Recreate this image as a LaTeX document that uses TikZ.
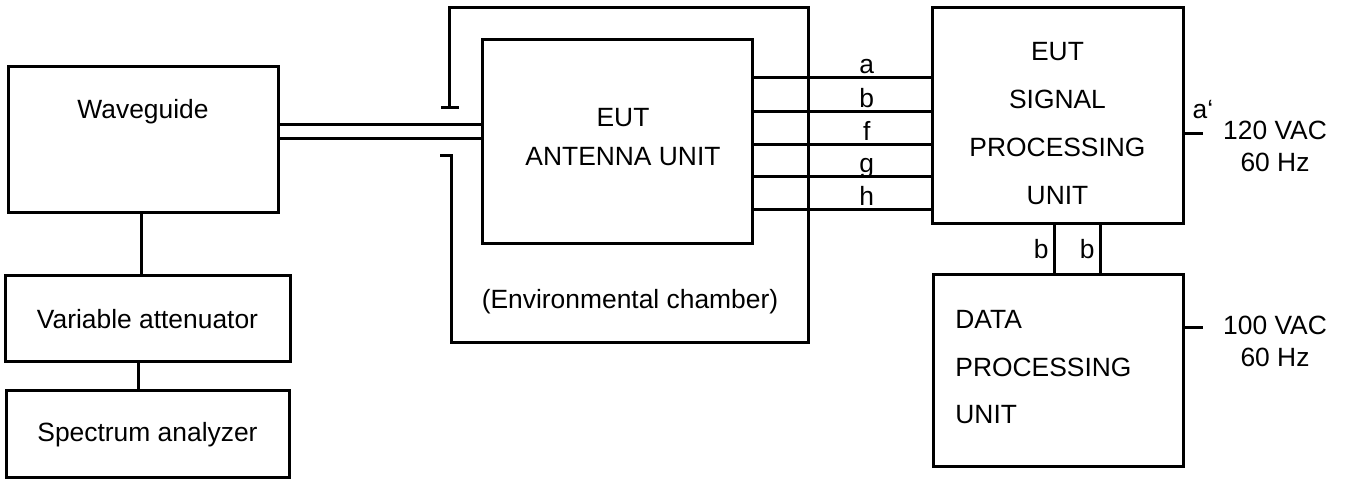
\documentclass[tikz,border=0pt]{standalone}
\usepackage{fontspec}
\setmainfont{Liberation Sans}
\usepackage{tikz}

\begin{document}
\begin{tikzpicture}[
    x=0.5pt, y=-0.5pt,
    font=\fontsize{13.2}{16}\selectfont,
    block/.style={draw, line width=1.5pt, inner sep=0pt},
    line/.style={line width=1.5pt},
    txt/.style={inner sep=0pt, align=center}
]
\useasboundingbox (0,0) rectangle (1346,480);

% measurement side
\node[block, minimum width=135pt, minimum height=73pt] (wg) at (143,140) {};
\node[txt] (wgtext) at (143,112) {Waveguide};
\node[block, minimum width=142.5pt, minimum height=43pt] (att) at (147.5,319) {Variable attenuator};
\node[block, minimum width=141.5pt, minimum height=43.5pt] (spec) at (147.5,434.5) {Spectrum analyzer};

% equipment under test
\node[block, minimum width=135pt, minimum height=102pt] (ant) at (617,142) {};
\node[txt, font=\fontsize{13.2}{19.5}\selectfont] (anttext) at (623,137.5) {EUT\\ANTENNA UNIT};
\node[block, minimum width=125.5pt, minimum height=108pt] (sig) at (1057.5,116) {};
\node[txt, font=\fontsize{13.2}{24}\selectfont] (sigtext) at (1057.5,123.5) {EUT\\SIGNAL\\PROCESSING\\UNIT};
\node[block, minimum width=125pt, minimum height=96pt] (dat) at (1058,371) {};
\node[txt, align=left, anchor=west, font=\fontsize{13.2}{23.75}\selectfont] (dattext) at (955,367.5) {DATA\\PROCESSING\\UNIT};

% environmental chamber
\draw[line] (441,108) -- (459,108);
\draw[line] (449,108) -- (449,8) -- (808,8) -- (808,343) -- (451,343) -- (451,156) -- (440,156);
\node[txt] (chamber) at (630,302) {(Environmental chamber)};

% connections
\draw[line] (wg.east |- 0,125) -- (ant.west |- 0,125);
\draw[line] (wg.east |- 0,139) -- (ant.west |- 0,139);
\draw[line] ([xshift=-1pt]wg.south) -- ([xshift=-1pt]wg.south |- att.north);
\draw[line] ([xshift=-4.75pt]att.south) -- ([xshift=-4.75pt]att.south |- spec.north);
\foreach \y/\lab in {78/a,112/b,145/f,177/g,210/h}
    \draw[line] (ant.east |- 0,\y) -- node[pos=.64, anchor=base, yshift=2pt, inner sep=0pt] {\lab} (sig.west |- 0,\y);
\foreach \dx in {-1.75,21.25}
    \draw[line] ([xshift=\dx pt]sig.south) -- node[left, inner sep=2pt] {b} ([xshift=\dx pt]sig.south |- dat.north);

% mains supply
\coordinate (acsig) at (1203,134);
\coordinate (acdat) at (1203,328);
\draw[line] (sig.east |- acsig) -- (acsig);
\draw[line] (dat.east |- acdat) -- (acdat);
\node[txt, anchor=base] (aprime) at (1203,119) {a‘};
\node[txt] (mains1) at (1275,146) {120 VAC\\60 Hz};
\node[txt] (mains2) at (1275,341) {100 VAC\\60 Hz};
\end{tikzpicture}
\end{document}
